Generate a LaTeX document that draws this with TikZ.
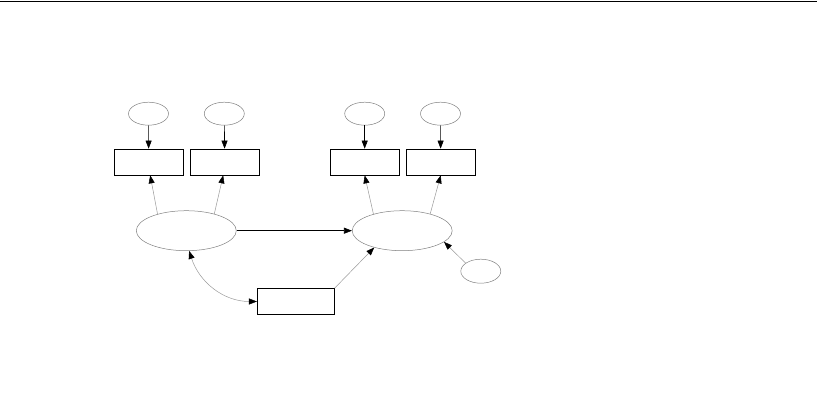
\documentclass[tikz,border=0pt]{standalone}
\usetikzlibrary{arrows.meta,shapes.geometric}
\begin{document}
\begin{tikzpicture}[x=1pt,y=-1pt,
  err/.style={ellipse,draw=black!50,line width=0.5pt,minimum width=40pt,minimum height=23pt,inner sep=0pt},
  lat/.style={ellipse,draw=black!50,line width=0.5pt,minimum width=100pt,minimum height=40pt,inner sep=0pt},
  obs/.style={rectangle,draw=black,line width=0.7pt,minimum width=69pt,minimum height=26pt,inner sep=0pt},
  tip/.style={-{Triangle[length=8pt,width=6pt,color=black]}},
  blk/.style={tip,draw=black,line width=0.6pt},
  gry/.style={tip,draw=black!40,line width=0.5pt}]
\useasboundingbox (0,0) rectangle (817,401);
\coordinate (tl) at (0,1.5);
\coordinate (tr) at (817,1.5);
\draw[line width=1pt] (tl) -- (tr);
\node[err] (e1) at (148.5,113.7) {};
\node[err] (e2) at (224.3,113.7) {};
\node[err] (e3) at (364.7,113.7) {};
\node[err] (e4) at (440.5,113.7) {};
\node[obs] (b1) at (148.7,162) {};
\node[obs] (b2) at (224.7,162) {};
\node[obs] (b3) at (364.7,162) {};
\node[obs] (b4) at (440.7,162) {};
\node[lat] (L1) at (186.3,230.7) {};
\node[lat] (L2) at (402.2,230.7) {};
\node[err,minimum height=24pt] (e5) at (480.8,271.2) {};
\node[obs,minimum width=77pt] (b5) at (295.8,301.5) {};
\draw[blk] (e1) -- (b1);
\draw[blk] (e2) -- (b2);
\draw[blk] (e3) -- (b3);
\draw[blk] (e4) -- (b4);
\draw[gry] (L1.150) -- ([xshift=1.5pt]b1.south);
\draw[gry] (L1.31) -- ([xshift=-1.5pt]b2.south);
\draw[gry] (L2.150) -- (b3.south);
\draw[gry] (L2.31) -- (b4.south);
\draw[blk] (L1.east) -- (L2.west);
\draw[gry] (b5.north east) -- (L2.211);
\draw[gry] (e5.152) -- (L2.-15);
\draw[gry,{Triangle[length=8pt,width=6pt,color=black]}-{Triangle[length=8pt,width=6pt,color=black]}] (L1.-82) to[out=-72,in=180] (b5.west);
\end{tikzpicture}
\end{document}
